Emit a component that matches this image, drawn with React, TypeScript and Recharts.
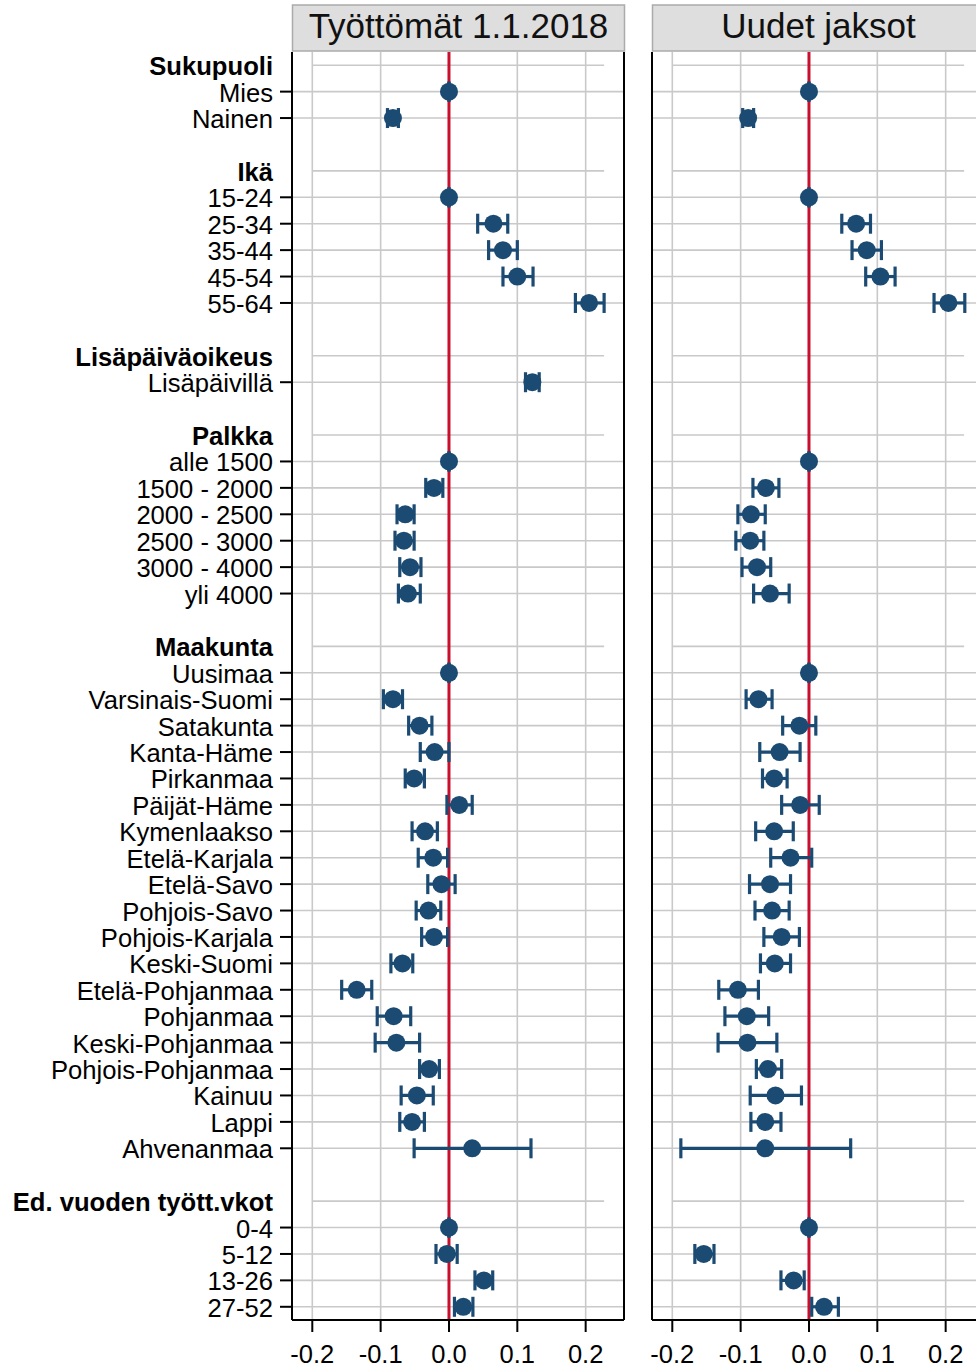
import React from 'react';
import {
  ScatterChart,
  Scatter,
  XAxis,
  YAxis,
  CartesianGrid,
  ReferenceLine,
  ErrorBar,
} from 'recharts';

// ---------- categories ----------
const groupNames = ['Sukupuoli', 'Ikä', 'Lisäpäiväoikeus', 'Palkka', 'Maakunta', 'Ed. vuoden tyött.vkot'];
const sukupuoli = ['Mies', 'Nainen'];
const ika = ['15-24', '25-34', '35-44', '45-54', '55-64'];
const lisapaivat = ['Lisäpäivillä'];
const palkka = ['alle 1500', '1500 - 2000', '2000 - 2500', '2500 - 3000', '3000 - 4000', 'yli 4000'];
const maakunta = [
  'Uusimaa', 'Varsinais-Suomi', 'Satakunta', 'Kanta-Häme', 'Pirkanmaa', 'Päijät-Häme',
  'Kymenlaakso', 'Etelä-Karjala', 'Etelä-Savo', 'Pohjois-Savo', 'Pohjois-Karjala',
  'Keski-Suomi', 'Etelä-Pohjanmaa', 'Pohjanmaa', 'Keski-Pohjanmaa', 'Pohjois-Pohjanmaa',
  'Kainuu', 'Lappi', 'Ahvenanmaa',
];
const tyottVkot = ['0-4', '5-12', '13-26', '27-52'];
const groupItems = [sukupuoli, ika, lisapaivat, palkka, maakunta, tyottVkot];

// ---------- panel titles & ticks ----------
const panelTitles = ['Työttömät 1.1.2018', 'Uudet jaksot'];
const xTicks = [-0.2, -0.1, 0, 0.1, 0.2];

// ---------- Työttömät 1.1.2018 (estimate, lower, upper) ----------
const tyottomatEst = [
  0, -0.082,
  0, 0.065, 0.079, 0.100, 0.205,
  0.122,
  0, -0.022, -0.064, -0.066, -0.057, -0.060,
  0, -0.082, -0.043, -0.021, -0.051, 0.015, -0.035, -0.023, -0.011, -0.030, -0.022,
  -0.068, -0.135, -0.081, -0.077, -0.029, -0.047, -0.054, 0.034,
  0, -0.003, 0.051, 0.021,
];
const tyottomatLo = [
  0, -0.090,
  0, 0.042, 0.058, 0.079, 0.185,
  0.112,
  0, -0.034, -0.076, -0.079, -0.072, -0.074,
  0, -0.096, -0.059, -0.042, -0.064, -0.003, -0.054, -0.045, -0.031, -0.048, -0.040,
  -0.085, -0.157, -0.105, -0.108, -0.043, -0.070, -0.072, -0.051,
  0, -0.019, 0.038, 0.008,
];
const tyottomatHi = [
  0, -0.074,
  0, 0.086, 0.100, 0.123, 0.227,
  0.132,
  0, -0.009, -0.051, -0.051, -0.041, -0.042,
  0, -0.068, -0.025, 0.000, -0.036, 0.034, -0.017, -0.002, 0.009, -0.012, -0.002,
  -0.053, -0.113, -0.056, -0.043, -0.014, -0.023, -0.036, 0.120,
  0, 0.012, 0.064, 0.035,
];

// ---------- Uudet jaksot (estimate, lower, upper) ----------
const uudetEst = [
  0, -0.089,
  0, 0.069, 0.0845, 0.1045, 0.204,
  null,
  0, -0.063, -0.085, -0.086, -0.076, -0.057,
  0, -0.074, -0.014, -0.043, -0.051, -0.013, -0.051, -0.027, -0.057, -0.054, -0.040,
  -0.050, -0.104, -0.091, -0.090, -0.060, -0.049, -0.064, -0.064,
  0, -0.154, -0.0225, 0.022,
];
const uudetLo = [
  0, -0.097,
  0, 0.048, 0.063, 0.083, 0.183,
  null,
  0, -0.082, -0.104, -0.107, -0.098, -0.081,
  0, -0.092, -0.0385, -0.072, -0.068, -0.040, -0.078, -0.056, -0.087, -0.079, -0.066,
  -0.071, -0.132, -0.123, -0.133, -0.077, -0.086, -0.085, -0.1875,
  0, -0.167, -0.041, 0.004,
];
const uudetHi = [
  0, -0.081,
  0, 0.090, 0.106, 0.126, 0.228,
  null,
  0, -0.044, -0.064, -0.066, -0.056, -0.029,
  0, -0.054, 0.010, -0.013, -0.032, 0.015, -0.023, 0.004, -0.027, -0.029, -0.014,
  -0.027, -0.074, -0.059, -0.047, -0.040, -0.011, -0.041, 0.061,
  0, -0.139, -0.007, 0.043,
];

// ---------- style constants ----------
const FONT = '"Liberation Sans", Arial, Helvetica, sans-serif';
const POINT = '#1B4A72';
const RED = '#C8102E';
const GRID = '#C9C9C9';
const X_DOMAIN: [number, number] = [-0.2297, 0.2561];
const HEADER_LINE_END = 0.227;

type Row = { idx: number; label: string; kind: 'header' | 'item' | 'blank'; item?: number };

const rows: Row[] = [];
(() => {
  let idx = 0;
  let item = 0;
  groupNames.forEach((g, gi) => {
    rows.push({ idx: idx++, label: g, kind: 'header' });
    groupItems[gi].forEach((l) => rows.push({ idx: idx++, label: l, kind: 'item', item: item++ }));
    if (gi < groupNames.length - 1) rows.push({ idx: idx++, label: '', kind: 'blank' });
  });
})();
const rowCount = rows.length;
const yTicks = rows.map((r) => r.idx);
const itemRows = rows.filter((r) => r.kind === 'item');
const headerRows = rows.filter((r) => r.kind === 'header');

function buildData(est: (number | null)[], lo: (number | null)[], hi: (number | null)[]) {
  return itemRows
    .filter((r) => est[r.item as number] !== null)
    .map((r) => {
      const i = r.item as number;
      const e = est[i] as number;
      return { x: e, y: r.idx, err: [e - (lo[i] as number), (hi[i] as number) - e] };
    });
}

const YTick = (props: any) => {
  const { x, y, payload } = props;
  const row = rows[payload.value];
  if (!row) return null;
  return (
    <g>
      {row.kind === 'item' && (
        <line x1={x - 12} x2={x} y1={y} y2={y} stroke="#000" strokeWidth={2} />
      )}
      {row.label && (
        <text
          x={x - 19}
          y={y + 10}
          textAnchor="end"
          fontFamily={FONT}
          fontSize={25.6}
          fontWeight={row.kind === 'header' ? 'bold' : 'normal'}
          fill="#000"
        >
          {row.label}
        </text>
      )}
    </g>
  );
};

const XTick = (props: any) => {
  const { x, y, payload } = props;
  return (
    <g>
      <line x1={x} x2={x} y1={y} y2={y + 12} stroke="#000" strokeWidth={2} />
      <text x={x} y={y + 43} textAnchor="middle" fontFamily={FONT} fontSize={25.5} fill="#000">
        {Number(payload.value).toFixed(1)}
      </text>
    </g>
  );
};

const Dot = (props: any) => {
  const { cx, cy } = props;
  if (cx == null || cy == null) return null;
  return <circle cx={cx} cy={cy} r={9} fill={POINT} />;
};

function Panel(props: {
  est: (number | null)[];
  lo: (number | null)[];
  hi: (number | null)[];
  showLabels: boolean;
  width: number;
  leftMargin: number;
}) {
  const data = buildData(props.est, props.lo, props.hi);
  return (
    <ScatterChart
      width={props.width}
      height={1368}
      margin={{ top: 52, right: 16, bottom: 0, left: props.leftMargin }}
    >
      <CartesianGrid horizontal={false} vertical={true} stroke={GRID} strokeWidth={1.6} />
      <XAxis
        type="number"
        dataKey="x"
        domain={X_DOMAIN}
        ticks={xTicks}
        interval={0}
        allowDataOverflow
        height={48}
        tickSize={0}
        tickMargin={0}
        tickLine={false}
        axisLine={{ stroke: '#000', strokeWidth: 2 }}
        tick={<XTick />}
      />
      <YAxis
        type="number"
        dataKey="y"
        domain={[-0.5, rowCount - 0.5]}
        reversed
        ticks={yTicks}
        interval={0}
        allowDataOverflow
        width={props.showLabels ? 292 : 0}
        hide={!props.showLabels}
        tickSize={0}
        tickMargin={0}
        tickLine={false}
        axisLine={{ stroke: '#000', strokeWidth: 2 }}
        tick={<YTick />}
      />
      {itemRows.map((r) => (
        <ReferenceLine key={'g' + r.idx} y={r.idx} stroke={GRID} strokeWidth={1.6} />
      ))}
      {headerRows.map((r) => (
        <ReferenceLine
          key={'h' + r.idx}
          segment={[
            { x: -0.2, y: r.idx },
            { x: HEADER_LINE_END, y: r.idx },
          ]}
          stroke={GRID}
          strokeWidth={1.6}
        />
      ))}
      {!props.showLabels && (
        <ReferenceLine x={X_DOMAIN[0]} stroke="#000" strokeWidth={2} />
      )}
      <ReferenceLine x={X_DOMAIN[1]} stroke="#000" strokeWidth={2} />
      <ReferenceLine x={0} stroke={RED} strokeWidth={3} />
      <Scatter data={data} fill={POINT} shape={<Dot />} isAnimationActive={false}>
        <ErrorBar
          dataKey="err"
          direction="x"
          width={10}
          stroke={POINT}
          strokeWidth={3.2}
          isAnimationActive={false}
        />
      </Scatter>
    </ScatterChart>
  );
}

export default function App() {
  return (
    <div
      style={{
        position: 'absolute',
        left: 0,
        top: 0,
        width: 976,
        height: 1368,
        overflow: 'hidden',
        background: '#fff',
        fontFamily: FONT,
      }}
    >
      <div style={{ position: 'absolute', left: 0, top: 0 }}>
        <Panel
          est={tyottomatEst}
          lo={tyottomatLo}
          hi={tyottomatHi}
          showLabels={true}
          width={640}
          leftMargin={0}
        />
      </div>
      <div style={{ position: 'absolute', left: 636, top: 0 }}>
        <Panel
          est={uudetEst}
          lo={uudetLo}
          hi={uudetHi}
          showLabels={false}
          width={364}
          leftMargin={16}
        />
      </div>
      <svg
        style={{ position: 'absolute', left: 0, top: 0 }}
        width={976}
        height={56}
      >
        <rect x={292.5} y={5} width={332} height={46} fill="#DEDEDE" stroke="#ABABAB" strokeWidth={1.5} />
        <text x={458.5} y={38} textAnchor="middle" fontFamily={FONT} fontSize={35} fill="#111">
          {panelTitles[0]}
        </text>
        <rect x={652.5} y={5} width={332} height={46} fill="#DEDEDE" stroke="#ABABAB" strokeWidth={1.5} />
        <text x={818.5} y={38} textAnchor="middle" fontFamily={FONT} fontSize={35} fill="#111">
          {panelTitles[1]}
        </text>
      </svg>
    </div>
  );
}
